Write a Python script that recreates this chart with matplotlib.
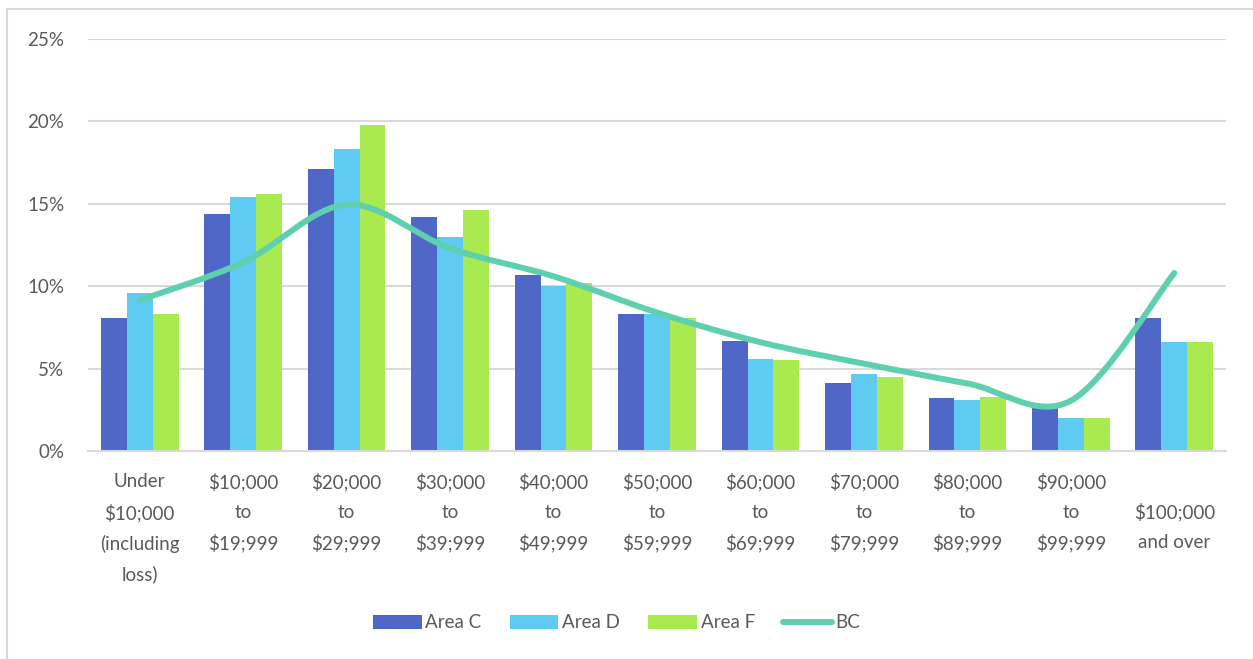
import numpy as np
import matplotlib
matplotlib.use("Agg")
import matplotlib.pyplot as plt
import matplotlib.transforms as mtransforms
from matplotlib.patches import Rectangle, PathPatch
from matplotlib.lines import Line2D
from matplotlib.path import Path

# Income bracket labels
categories = [
    "Under\n$10;000\n(including\nloss)",
    "$10;000\nto\n$19;999",
    "$20;000\nto\n$29;999",
    "$30;000\nto\n$39;999",
    "$40;000\nto\n$49;999",
    "$50;000\nto\n$59;999",
    "$60;000\nto\n$69;999",
    "$70;000\nto\n$79;999",
    "$80;000\nto\n$89;999",
    "$90;000\nto\n$99;999",
    "$100;000\nand over",
]

# Share of households per bracket (%)
area_c = [8.1, 14.4, 17.1, 14.2, 10.7, 8.3, 6.7, 4.1, 3.2, 2.7, 8.1]
area_d = [9.6, 15.4, 18.3, 13.0, 10.0, 8.3, 5.6, 4.7, 3.1, 2.0, 6.6]
area_f = [8.3, 15.6, 19.8, 14.6, 10.2, 8.1, 5.5, 4.5, 3.3, 2.0, 6.6]
bc = [9.15, 11.45, 14.95, 12.3, 10.6, 8.4, 6.6, 5.3, 4.1, 3.05, 10.8]

yticks = [0, 5, 10, 15, 20, 25]

TEXT = "#595959"
GRID = "#D9D9D9"
BC_COLOR = "#5ECFAF"
plt.rcParams["font.family"] = ["Lato", "DejaVu Sans"]


def smooth_path(xs, ys):
    # Bezier curve through every point, control points from neighbours (Catmull-Rom style)
    pts = np.column_stack([xs, ys]).astype(float)
    n = len(pts)
    verts = [pts[0]]
    codes = [Path.MOVETO]
    for i in range(n - 1):
        p0 = pts[i - 1] if i > 0 else pts[i]
        p1 = pts[i]
        p2 = pts[i + 1]
        p3 = pts[i + 2] if i + 2 < n else pts[i + 1]
        c1 = p1 + (p2 - p0) / 6.0
        c2 = p2 - (p3 - p1) / 6.0
        verts += [c1, c2, p2]
        codes += [Path.CURVE4] * 3
    return Path(verts, codes)


fig = plt.figure(figsize=(12.53, 6.59), dpi=100)
ax = fig.add_axes([88 / 1253, 208 / 659, 1138 / 1253, 412 / 659])

x = np.arange(len(categories))
w = 0.25
b1 = ax.bar(x - w, area_c, w, color="#4F68C8", label="Area C", zorder=2)
b2 = ax.bar(x, area_d, w, color="#5FCBF2", label="Area D", zorder=2)
b3 = ax.bar(x + w, area_f, w, color="#A8EA50", label="Area F", zorder=2)

# BC drawn as a smoothed line
ax.add_patch(PathPatch(smooth_path(x, bc), facecolor="none", edgecolor=BC_COLOR, lw=4.3,
                       capstyle="round", zorder=3))
bc_handle = Line2D([], [], color=BC_COLOR, lw=4.3, solid_capstyle="round")

ax.set_xlim(-0.5, len(categories) - 0.5)
ax.set_ylim(0, 25)
ax.set_yticks(yticks)
ax.set_yticklabels([f"{t}%" for t in yticks])
ax.set_xticks(x)
ax.set_xticklabels(categories, linespacing=1.84)

ax.grid(axis="y", color=GRID, lw=1.5, zorder=0)
for s in ["top", "right", "left"]:
    ax.spines[s].set_visible(False)
ax.spines["bottom"].set_color(GRID)
ax.spines["bottom"].set_linewidth(1.5)
ax.tick_params(axis="both", length=0, colors=TEXT, labelsize=13.5)
ax.tick_params(axis="x", pad=16)
ax.tick_params(axis="y", pad=17)

# last label sits one line lower
last = ax.get_xticklabels()[-1]
last.set_transform(last.get_transform() + mtransforms.ScaledTranslation(0, -30 / 100, fig.dpi_scale_trans))

fig.legend([b1, b2, b3, bc_handle], ["Area C", "Area D", "Area F", "BC"],
           loc="center", bbox_to_anchor=(0.492, 1 - 623 / 659), ncol=4, frameon=False,
           fontsize=13.5, handlelength=2.6, handleheight=0.75, handletextpad=0.2,
           columnspacing=1.5, labelcolor=TEXT)

# chart border
fig.patches.append(Rectangle((7 / 1253, -0.1), 1.2, 1 - 9 / 659 + 0.1, transform=fig.transFigure,
                             fill=False, edgecolor=GRID, lw=1.5))

fig.savefig("out.png", dpi=100)
